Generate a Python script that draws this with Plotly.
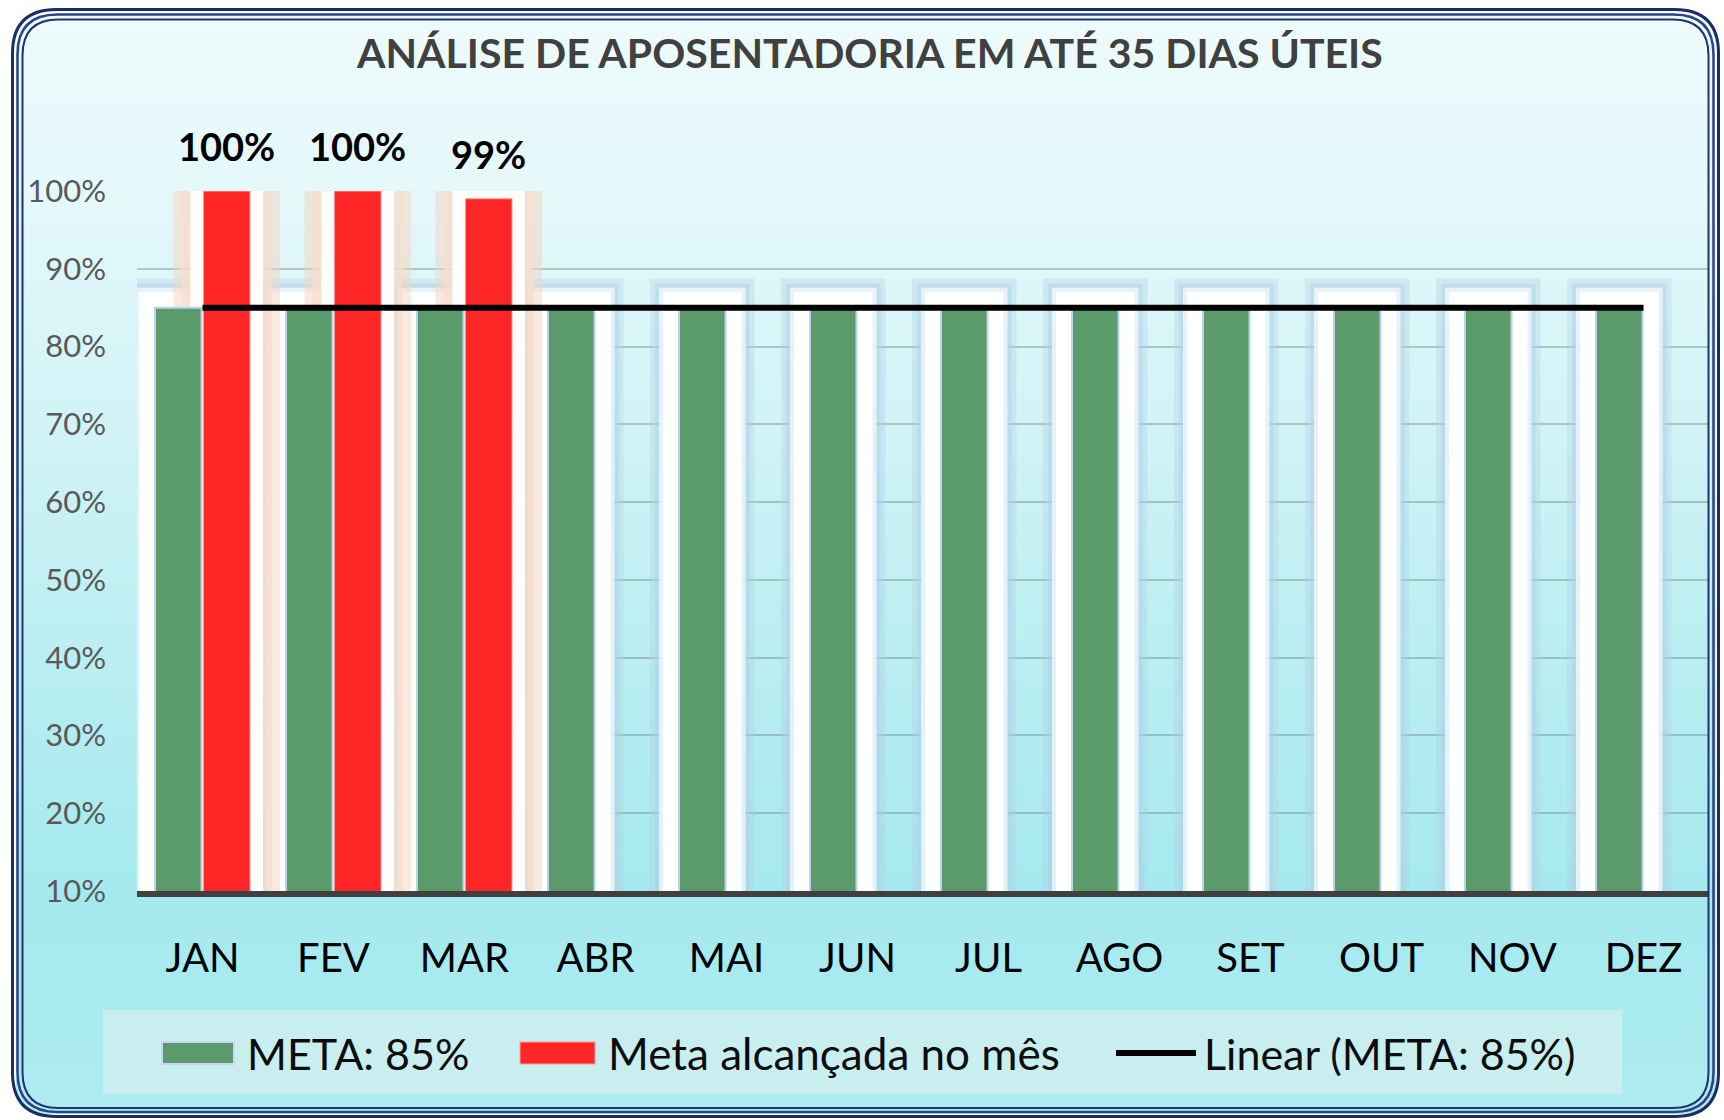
import plotly.graph_objects as go

# ---------------- data ----------------
meses = ["JAN", "FEV", "MAR", "ABR", "MAI", "JUN", "JUL", "AGO", "SET", "OUT", "NOV", "DEZ"]
meta = [85, 85, 85, 85, 85, 85, 85, 85, 85, 85, 85, 85]
alcancada = [100, 100, 99, None, None, None, None, None, None, None, None, None]
linear_meta = [85, 85, 85, 85, 85, 85, 85, 85, 85, 85, 85, 85]
y_ticks = [10, 20, 30, 40, 50, 60, 70, 80, 90, 100]
y_ticktext = ["10%", "20%", "30%", "40%", "50%", "60%", "70%", "80%", "90%", "100%"]

titulo = "ANÁLISE DE APOSENTADORIA EM ATÉ 35 DIAS ÚTEIS"
nome_meta = "META: 85%"
nome_alc = "Meta alcançada no mês"
nome_lin = "Linear (META: 85%)"

# ---------------- layout helpers ----------------
W, H = 1724, 1120
FONT = "Lato"
GREEN = "#5a9a6b"
RED = "#fe2626"


def px(x):
    return x / W


def py(y):
    return 1 - y / H


def rrect(x0, y0, x1, y1, r):
    return (f"M {px(x0 + r)},{py(y0)} L {px(x1 - r)},{py(y0)} "
            f"Q {px(x1)},{py(y0)} {px(x1)},{py(y0 + r)} "
            f"L {px(x1)},{py(y1 - r)} Q {px(x1)},{py(y1)} {px(x1 - r)},{py(y1)} "
            f"L {px(x0 + r)},{py(y1)} Q {px(x0)},{py(y1)} {px(x0)},{py(y1 - r)} "
            f"L {px(x0)},{py(y0 + r)} Q {px(x0)},{py(y0)} {px(x0 + r)},{py(y0)} Z")


fig = go.Figure()


def glow(values, group, color, width):
    fig.add_trace(go.Bar(x=meses, y=values, offsetgroup=group, showlegend=False,
                         hoverinfo="skip",
                         marker=dict(color=color, line=dict(color=color, width=width))))


# soft glows (drawn behind the bars, same offset groups)
glow(meta, "g", "rgba(175,208,230,0.35)", 58)
glow(meta, "g", "rgba(175,208,230,0.45)", 48)
glow(meta, "g", "rgba(240,248,253,0.8)", 40)
glow(meta, "g", "rgba(255,255,255,0.95)", 32)
glow(alcancada, "r", "rgba(246,212,192,0.5)", 60)
glow(alcancada, "r", "rgba(248,222,205,0.7)", 44)
glow(alcancada, "r", "rgba(255,255,255,0.95)", 26)

# real bars
fig.add_trace(go.Bar(x=meses, y=meta, name=nome_meta, offsetgroup="g", showlegend=False,
                     marker=dict(color=GREEN, line=dict(color="#bcd3ea", width=2))))
fig.add_trace(go.Bar(x=meses, y=alcancada, name=nome_alc, offsetgroup="r", showlegend=False,
                     marker=dict(color=RED, line=dict(color="#ff9a9a", width=1))))

# trend line
fig.add_trace(go.Scatter(x=meses, y=linear_meta, name=nome_lin, mode="lines", showlegend=False,
                         line=dict(color="black", width=6)))

# data labels above red bars
annotations = []
for m, v in zip(meses, alcancada):
    if v is not None:
        annotations.append(dict(x=m, y=v, xref="x", yref="y", text=f"{v}%", showarrow=False,
                                xshift=24, yshift=45, yanchor="middle",
                                font=dict(family=FONT, size=38, color="black", weight="bold")))

# title
annotations.append(dict(x=px(869), y=py(52), xref="paper", yref="paper", text=titulo,
                        showarrow=False, xanchor="center", yanchor="middle",
                        font=dict(family=FONT, size=41, color="#404040", weight="bold")))

# legend texts
for xl, t, sz in [(245, nome_meta, 43), (606, nome_alc, 44), (1202, nome_lin, 43)]:
    annotations.append(dict(x=px(xl), y=py(1053), xref="paper", yref="paper", text=t,
                            showarrow=False, xanchor="left", yanchor="middle",
                            font=dict(family=FONT, size=sz, color="#0d0d0d")))

shapes = []
# gradient background strips
stops = [(10, (238, 251, 252)), (200, (228, 248, 250)), (450, (207, 243, 246)),
         (700, (182, 237, 241)), (900, (164, 233, 238)), (1115, (174, 236, 240))]


def col_at(y):
    for (ya, ca), (yb, cb) in zip(stops[:-1], stops[1:]):
        if ya <= y <= yb:
            t = (y - ya) / (yb - ya)
            return tuple(round(a + (b - a) * t) for a, b in zip(ca, cb))
    return stops[-1][1]


step = 8
y = 14
while y < 1114:
    c = col_at(y + step / 2)
    shapes.append(dict(type="rect", xref="paper", yref="paper", layer="below",
                       x0=px(16), x1=px(1716), y0=py(y), y1=py(min(y + step + 1, 1114)),
                       fillcolor=f"rgb{c}", line=dict(width=0)))
    y += step

# corner masks (white)
R = 40
X0, Y0, X1, Y1 = 14, 11, 1718, 1116
for (cx, cy, sx, sy) in [(X0, Y0, 1, 1), (X1, Y0, -1, 1), (X0, Y1, 1, -1), (X1, Y1, -1, -1)]:
    path = (f"M {px(cx - sx * 6)},{py(cy - sy * 6)} L {px(cx + sx * R)},{py(cy - sy * 6)} "
            f"L {px(cx + sx * R)},{py(cy)} Q {px(cx)},{py(cy)} {px(cx)},{py(cy + sy * R)} "
            f"L {px(cx - sx * 6)},{py(cy + sy * R)} Z")
    shapes.append(dict(type="path", xref="paper", yref="paper", layer="below", path=path,
                       fillcolor="white", line=dict(width=0)))

# legend box
shapes.append(dict(type="rect", xref="paper", yref="paper", layer="below",
                   x0=px(103), x1=px(1622), y0=py(1010), y1=py(1094),
                   fillcolor="#c9eef0", line=dict(width=0)))
# legend swatches
shapes.append(dict(type="rect", xref="paper", yref="paper", layer="above",
                   x0=px(162), x1=px(234), y0=py(1042), y1=py(1064),
                   fillcolor=GREEN, line=dict(color="#c8d8f0", width=2)))
shapes.append(dict(type="rect", xref="paper", yref="paper", layer="above",
                   x0=px(520), x1=px(595), y0=py(1042), y1=py(1064),
                   fillcolor=RED, line=dict(color="#ff9a9a", width=1)))
shapes.append(dict(type="line", xref="paper", yref="paper", layer="above",
                   x0=px(1116), x1=px(1196), y0=py(1053), y1=py(1053),
                   line=dict(color="black", width=6)))

# border (triple navy lines)
shapes.append(dict(type="path", xref="paper", yref="paper", layer="above",
                   path=rrect(12.5, 9.5, 1718.5, 1116.5, 44), line=dict(color="#1b2d66", width=3)))
shapes.append(dict(type="path", xref="paper", yref="paper", layer="above",
                   path=rrect(17.5, 14.5, 1713.5, 1112, 40), line=dict(color="#2c4384", width=2.5)))
shapes.append(dict(type="path", xref="paper", yref="paper", layer="above",
                   path=rrect(22.5, 19.5, 1708.5, 1108, 36), line=dict(color="#1f3470", width=2)))

fig.update_layout(
    width=W, height=H,
    margin=dict(l=0, r=0, t=0, b=0, autoexpand=False),
    paper_bgcolor="white",
    plot_bgcolor="rgba(0,0,0,0)",
    barmode="group",
    bargap=0.26,
    bargroupgap=0.04,
    showlegend=False,
    shapes=shapes,
    annotations=annotations,
    xaxis=dict(domain=[px(137), px(1709)], showgrid=False, showline=True,
               linecolor="#404040", linewidth=6, ticks="", ticklabelstandoff=27,
               tickfont=dict(family=FONT, size=40, color="black"), fixedrange=True),
    yaxis=dict(domain=[py(891), py(191)], range=[10, 100], tickvals=y_ticks, ticktext=y_ticktext,
               showgrid=True, gridcolor="rgba(110,125,125,0.4)", gridwidth=2,
               zeroline=False, showline=False, ticks="", ticklabelstandoff=30,
               tickfont=dict(family=FONT, size=31, color="#595959"), fixedrange=True),
)

fig.write_html(
    "out.html",
    config={"displayModeBar": False},
    post_script=("document.documentElement.style.margin='0';"
                 "document.documentElement.style.overflow='hidden';"
                 "document.body.style.margin='0';"
                 "document.body.style.overflow='hidden';"),
)
